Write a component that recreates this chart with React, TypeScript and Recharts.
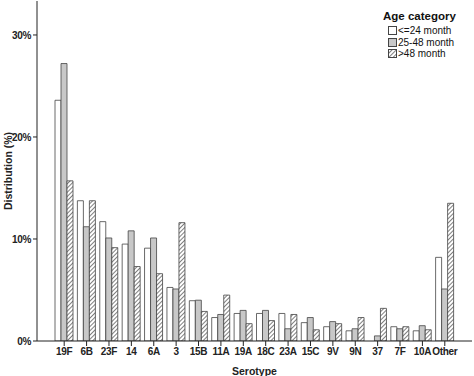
import { Bar, BarChart, XAxis, YAxis } from "recharts";

const serotypes = [
  "19F", "6B", "23F", "14", "6A", "3", "15B", "11A", "19A",
  "18C", "23A", "15C", "9V", "9N", "37", "7F", "10A", "Other",
];
const upTo24 = [23.6, 13.75, 11.7, 9.5, 9.1, 5.25, 3.95, 2.3, 2.7, 2.7, 2.7, 1.8, 1.4, 1.0, 0, 1.4, 1.0, 8.2];
const m25to48 = [27.2, 11.2, 10.1, 10.8, 10.1, 5.1, 4.0, 2.6, 3.0, 3.0, 1.2, 2.3, 1.9, 1.2, 0.5, 1.2, 1.5, 5.1];
const over48 = [15.7, 13.75, 9.15, 7.3, 6.6, 11.6, 2.9, 4.5, 1.7, 2.0, 2.6, 1.1, 1.7, 2.3, 3.2, 1.4, 1.1, 13.5];
const yTicks = [0, 10, 20, 30];

const data = serotypes.map((s, i) => ({
  name: s,
  a: upTo24[i],
  b: m25to48[i],
  c: over48[i],
}));

const font = "'Liberation Sans', Arial, sans-serif";
const tickStyle = { fontSize: 10, fontWeight: "bold", fill: "#222", fontFamily: font, letterSpacing: -0.3 };

const legendItems = [
  { label: "<=24 month", fill: "#ffffff" },
  { label: "25-48 month", fill: "#c8c8c8" },
  { label: ">48 month", fill: "url(#hatch)" },
];

function AgeLegend() {
  return (
    <div style={{ position: "absolute", left: 383, top: 10, fontFamily: font, color: "#111" }}>
      <div style={{ fontWeight: "bold", fontSize: 11.5, marginBottom: 3 }}>Age category</div>
      {legendItems.map((it) => (
        <div key={it.label} style={{ display: "flex", alignItems: "center", fontSize: 10, height: 11.5, marginLeft: 5 }}>
          <svg width={9} height={9} style={{ marginRight: 1 }}>
            <rect x={0.5} y={0.5} width={8} height={8} fill={it.fill} stroke="#444" />
          </svg>
          <span>{it.label}</span>
        </div>
      ))}
    </div>
  );
}

export default function App() {
  return (
    <div style={{ position: "fixed", left: 0, top: 0, width: 474, height: 376, background: "#fff" }}>
      <svg width={0} height={0} style={{ position: "absolute" }}>
        <defs>
          <pattern id="hatch" patternUnits="userSpaceOnUse" width={3} height={3} patternTransform="rotate(45)">
            <rect width={3} height={3} fill="#ffffff" />
            <line x1={0} y1={0} x2={0} y2={3} stroke="#555" strokeWidth={1.5} />
          </pattern>
        </defs>
      </svg>
      <BarChart
        width={474}
        height={376}
        data={data}
        margin={{ top: 1, right: 2, bottom: 0, left: 0 }}
        barGap={0}
        barSize={6}
      >
        <XAxis
          dataKey="name"
          height={35}
          padding={{ left: 16, right: 16 }}
          interval={0}
          tickSize={5}
          axisLine={{ stroke: "#222" }}
          tickLine={{ stroke: "#222" }}
          tick={tickStyle}
          label={{ value: "Serotype", position: "insideBottom", offset: 1, fontSize: 10.5, fontWeight: "bold", fill: "#222", fontFamily: font }}
        />
        <XAxis xAxisId="top" orientation="top" dataKey="name" height={0} tick={false} tickLine={false} axisLine={{ stroke: "#aaa", strokeWidth: 2 }} />
        <YAxis
          width={37}
          domain={[0, 33.33]}
          ticks={yTicks}
          allowDataOverflow
          tickSize={4}
          tickFormatter={(v) => `${v}%`}
          axisLine={{ stroke: "#222" }}
          tickLine={{ stroke: "#222" }}
          tick={tickStyle}
          label={{ value: "Distribution (%)", angle: -90, position: "insideLeft", offset: 8, fontSize: 10.5, fontWeight: "bold", fill: "#222", fontFamily: font, style: { textAnchor: "middle" } }}
        />
        <YAxis yAxisId="right" orientation="right" width={0} tick={false} tickLine={false} axisLine={{ stroke: "#aaa", strokeWidth: 2 }} />
        <Bar dataKey="a" name="<=24 month" fill="#ffffff" stroke="#444" strokeWidth={0.8} isAnimationActive={false} />
        <Bar dataKey="b" name="25-48 month" fill="#c8c8c8" stroke="#444" strokeWidth={0.8} isAnimationActive={false} />
        <Bar dataKey="c" name=">48 month" fill="url(#hatch)" stroke="#444" strokeWidth={0.8} isAnimationActive={false} />
      </BarChart>
      <AgeLegend />
    </div>
  );
}
